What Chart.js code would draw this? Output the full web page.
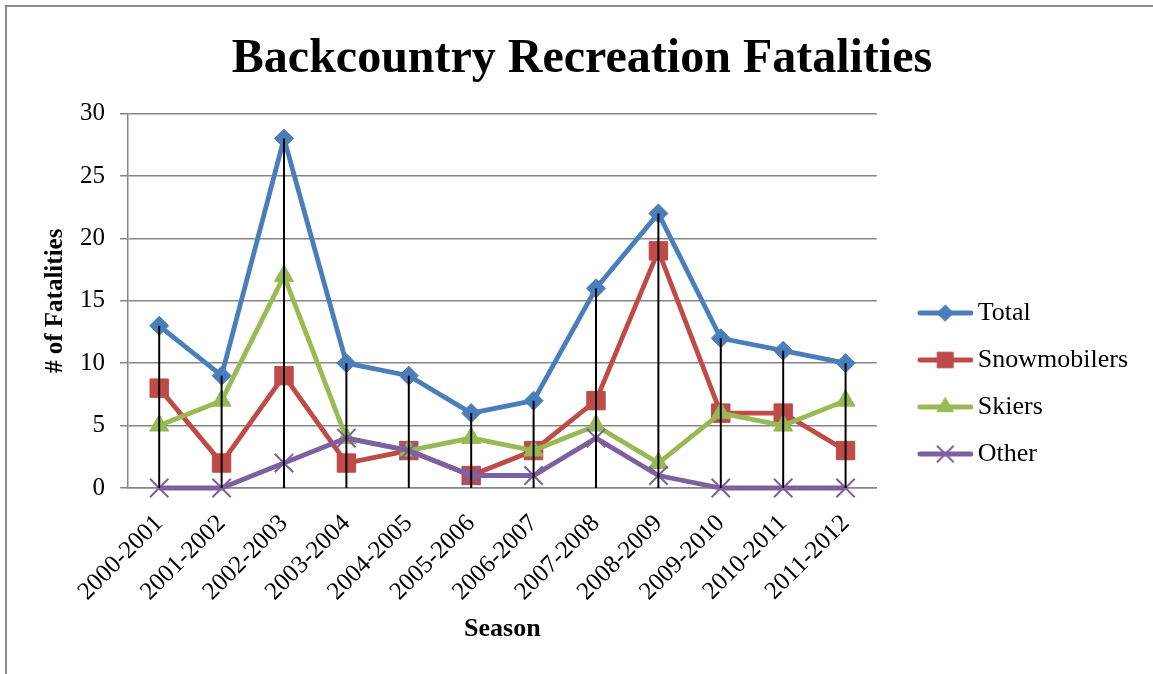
<!DOCTYPE html>
<html>
<head>
<meta charset="utf-8">
<script src="https://cdn.jsdelivr.net/npm/chart.js@4.4.1/dist/chart.umd.min.js"></script>
<style>
  html, body { margin: 0; padding: 0; background: #fff; overflow: hidden; }
  #frame { position: absolute; left: 5px; top: 5px; width: 2000px; height: 2000px;
           border-left: 2px solid #8a8a8a; border-top: 2px solid #8a8a8a; }
  #wrap { position: absolute; left: 0; top: 0; width: 1153px; height: 674px; }
</style>
</head>
<body>
<div id="frame"></div>
<div id="wrap"><canvas id="c" width="1153" height="674"></canvas></div>
<script>
const seasons = ["2000-2001","2001-2002","2002-2003","2003-2004","2004-2005","2005-2006",
                 "2006-2007","2007-2008","2008-2009","2009-2010","2010-2011","2011-2012"];
const total        = [13, 9, 28, 10, 9, 6, 7, 16, 22, 12, 11, 10];
const snowmobilers = [ 8, 2,  9,  2, 3, 1, 3,  7, 19,  6,  6,  3];
const skiers       = [ 5, 7, 17,  4, 3, 4, 3,  5,  2,  6,  5,  7];
const other        = [ 0, 0,  2,  4, 3, 1, 1,  4,  1,  0,  0,  0];
const yTicks = [0, 5, 10, 15, 20, 25, 30];

const FONT = "'Liberation Serif', 'Times New Roman', serif";

const seriesStyle = [
  { label: "Total",        data: total,        color: "#4a7ebb", style: "rectRot",  radius: 9.5, bw: 1 },
  { label: "Snowmobilers", data: snowmobilers, color: "#be4b48", style: "rect",     radius: 13,  bw: 1 },
  { label: "Skiers",       data: skiers,       color: "#98b954", style: "triangle", radius: 11,  bw: 1 },
  { label: "Other",        data: other,        color: "#7d60a0", style: "crossRot", radius: 13,  bw: 2 }
];

function legendImage(s) {
  const cv = document.createElement('canvas');
  cv.width = 83; cv.height = 26;
  const ctx = cv.getContext('2d');
  ctx.strokeStyle = s.color; ctx.lineWidth = 4.8; ctx.lineCap = 'round';
  ctx.beginPath(); ctx.moveTo(30, 13); ctx.lineTo(81, 13); ctx.stroke();
  ctx.fillStyle = s.color; ctx.strokeStyle = s.color; ctx.lineWidth = s.bw;
  Chart.helpers.drawPoint(ctx, { pointStyle: s.style, radius: s.radius * 0.85, rotation: 0, borderWidth: s.bw }, 55.5, 13);
  return cv;
}

const datasets = seriesStyle.map((s, i) => ({
  label: s.label,
  data: s.data,
  borderColor: s.color,
  backgroundColor: s.color,
  borderWidth: 4.8,
  pointStyle: s.style,
  pointRadius: s.radius,
  pointHoverRadius: s.radius,
  pointBorderWidth: s.bw,
  pointBackgroundColor: s.color,
  pointBorderColor: s.color,
  tension: 0,
  clip: false,
  order: 3 - i,
  legendImg: legendImage(s)
}));

const dropLines = {
  id: 'dropLines',
  afterDatasetsDraw(chart) {
    const meta = chart.getDatasetMeta(0);
    const y0 = chart.scales.y.getPixelForValue(0);
    const ctx = chart.ctx;
    ctx.save();
    ctx.strokeStyle = '#000'; ctx.lineWidth = 2;
    meta.data.forEach(pt => {
      ctx.beginPath(); ctx.moveTo(pt.x, pt.y); ctx.lineTo(pt.x, y0); ctx.stroke();
    });
    ctx.restore();
  }
};

new Chart(document.getElementById('c'), {
  type: 'line',
  data: { labels: seasons, datasets },
  plugins: [dropLines],
  options: {
    responsive: false,
    animation: false,
    layout: { padding: { left: 26, right: 15, top: 2, bottom: 3 } },
    plugins: {
      title: {
        display: true,
        text: "Backcountry Recreation Fatalities",
        color: '#000',
        font: { family: FONT, size: 48, weight: 'bold' },
        padding: { top: 29, bottom: 25 }
      },
      legend: {
        position: 'right',
        fullSize: false,
        align: 'end',
        sort: (a, b) => a.datasetIndex - b.datasetIndex,
        labels: {
          usePointStyle: true,
          pointStyleWidth: 67,
          padding: 21,
          color: '#000',
          font: { family: FONT, size: 26 },
          generateLabels(chart) {
            return chart.data.datasets.map((d, i) => ({
              text: d.label,
              pointStyle: d.legendImg,
              fillStyle: d.borderColor,
              strokeStyle: d.borderColor,
              lineWidth: 0,
              hidden: false,
              datasetIndex: i,
              fontColor: '#000'
            }));
          }
        }
      },
      tooltip: { enabled: false }
    },
    scales: {
      x: {
        offset: true,
        grid: { display: false, drawTicks: false },
        border: { display: true, color: '#868686', width: 1.5 },
        ticks: {
          autoSkip: false, maxRotation: 45, minRotation: 45, padding: 21,
          color: '#000', font: { family: FONT, size: 25 }
        },
        title: {
          display: true, text: 'Season', color: '#000',
          font: { family: FONT, size: 26, weight: 'bold' },
          padding: { top: -14.4, bottom: 26.4 }
        }
      },
      y: {
        min: 0, max: 30,
        afterBuildTicks(scale) { scale.ticks = yTicks.map(v => ({ value: v })); },
        grid: { color: '#868686', lineWidth: 1.5, tickLength: 8, drawTicks: true },
        border: { display: true, color: '#868686', width: 1.5 },
        ticks: { padding: 15, color: '#000', font: { family: FONT, size: 25 } },
        title: {
          display: true, text: '# of Fatalities', color: '#000',
          font: { family: FONT, size: 25, weight: 'bold' },
          padding: { top: 15, bottom: -6 }
        }
      }
    }
  }
});
</script>
</body>
</html>
